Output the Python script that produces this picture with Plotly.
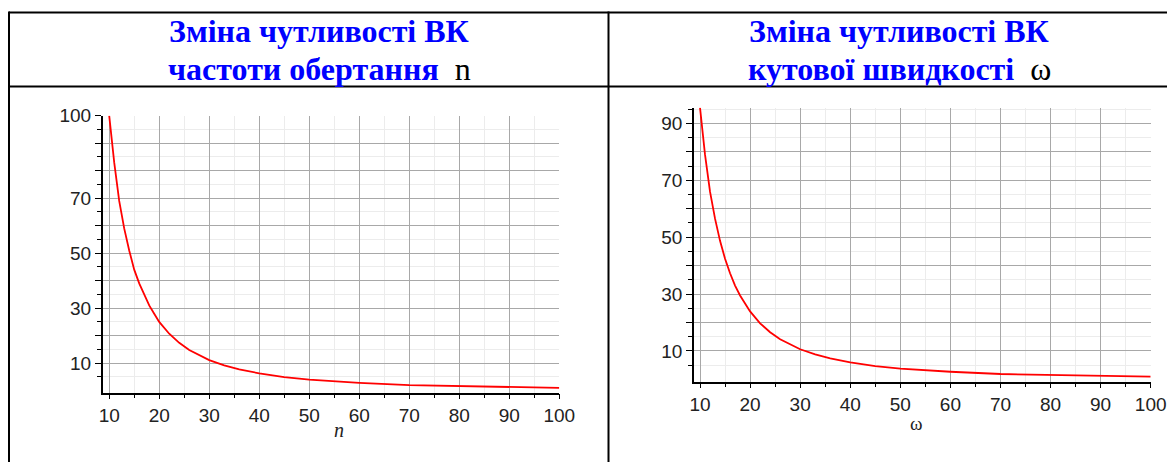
import plotly.graph_objects as go
from plotly.subplots import make_subplots

W, H = 1175, 462
OFF = 8  # the page body margin shifts the figure by 8 px

# values
n_vals = [10, 11, 12, 13, 14, 15, 16, 17, 18, 19, 20, 22, 24, 26, 28, 30, 33, 36, 40, 45, 50, 55, 60, 70, 80, 90, 100]
sens_n = [100, 83, 69, 59, 51, 44, 39, 35, 31, 28, 25, 20.7, 17.4, 14.8, 12.8, 11.1, 9.2, 7.7, 6.3, 4.9, 4.0, 3.3, 2.8, 2.0, 1.6, 1.2, 1.0]

w_vals = [10, 11, 12, 13, 14, 15, 16, 17, 18, 19, 20, 22, 24, 26, 28, 30, 33, 36, 40, 45, 50, 55, 60, 70, 80, 90, 100]
sens_w = [95.5, 79, 66, 56.5, 48.7, 42.4, 37.3, 33, 29.5, 26.5, 23.9, 19.7, 16.6, 14.1, 12.2, 10.6, 8.8, 7.4, 6.0, 4.7, 3.8, 3.2, 2.7, 1.9, 1.5, 1.2, 0.95]

x_ticks = [10, 20, 30, 40, 50, 60, 70, 80, 90, 100]
x_minor = [15, 25, 35, 45, 55, 65, 75, 85, 95]

y_ticks_n = [10, 20, 30, 40, 50, 60, 70, 80, 90, 100]
y_text_n = ["10", "", "30", "", "50", "", "70", "", "", "100"]
y_ticks_w = [10, 20, 30, 40, 50, 60, 70, 80, 90]
y_text_w = ["10", "", "30", "", "50", "", "70", "", "90"]
y_minor = [5, 15, 25, 35, 45, 55, 65, 75, 85, 95]

headers = [
    ("Зміна чутливості ВК", "частоти обертання", "n"),
    ("Зміна чутливості ВК", "кутової швидкості", "ω"),
]


def px(x):
    return (x - OFF) / W


def py(y):
    return 1 - (y - OFF) / H


fig = make_subplots(rows=1, cols=2)

fig.add_trace(go.Scatter(x=n_vals, y=sens_n, mode="lines",
                         line=dict(color="#ff0000", width=1.8), showlegend=False), row=1, col=1)
fig.add_trace(go.Scatter(x=w_vals, y=sens_w, mode="lines",
                         line=dict(color="#ff0000", width=1.8), showlegend=False), row=1, col=2)

tick_font = dict(family="Liberation Sans", size=19, color="#222")
grid_major = "#a8a8a8"
grid_minor = "#ececec"

common_x = dict(
    tickmode="array", tickvals=x_ticks, ticktext=[str(v) for v in x_ticks],
    showgrid=True, gridcolor=grid_major, gridwidth=1,
    showline=True, linecolor="black", linewidth=1.5,
    ticks="outside", ticklen=5, tickwidth=1.2, tickcolor="black",
    tickfont=tick_font, zeroline=False, automargin=False,
    minor=dict(tickmode="array", tickvals=x_minor, showgrid=True, gridcolor=grid_minor,
               ticks="outside", ticklen=4, tickwidth=1.2, tickcolor="black"),
)
common_y = dict(
    showgrid=True, gridcolor=grid_major, gridwidth=1,
    showline=True, linecolor="black", linewidth=1.5,
    ticks="outside", ticklen=6, tickwidth=1.2, tickcolor="black",
    tickfont=tick_font, zeroline=False, automargin=False,
    minor=dict(tickmode="array", tickvals=y_minor, showgrid=True, gridcolor=grid_minor,
               ticks="outside", ticklen=4, tickwidth=1.2, tickcolor="black"),
)

fig.update_xaxes(common_x)
fig.update_yaxes(common_y)

fig.update_layout(
    xaxis=dict(domain=[px(102.7), px(559.3)], range=[8.7, 100]),
    yaxis=dict(domain=[py(392.7), py(115.7)], range=[-0.75, 100],
               tickmode="array", tickvals=y_ticks_n, ticktext=y_text_n),
    xaxis2=dict(domain=[px(694), px(1150.7)], range=[8.8, 100]),
    yaxis2=dict(domain=[py(381.7), py(107.7)], range=[-0.8, 95.5],
                tickmode="array", tickvals=y_ticks_w, ticktext=y_text_w),
)

# table borders
line = dict(color="black", width=2)
left_edge = px(9)
shapes = [
    dict(type="line", xref="paper", yref="paper", x0=left_edge, x1=1, y0=py(12.5), y1=py(12.5), line=line),
    dict(type="line", xref="paper", yref="paper", x0=left_edge, x1=1, y0=py(86.5), y1=py(86.5), line=line),
    dict(type="line", xref="paper", yref="paper", x0=left_edge, x1=left_edge, y0=py(11.5), y1=0, line=line),
    dict(type="line", xref="paper", yref="paper", x0=px(608.5), x1=px(608.5), y0=py(11.5), y1=0, line=line),
]

annotations = []
for cx, (l1, l2, sym) in zip([319, 899], headers):
    annotations.append(dict(
        x=px(cx), y=py(31.5), xref="paper", yref="paper", showarrow=False,
        xanchor="center", yanchor="middle",
        text=f"<b>{l1}</b>",
        font=dict(family="Liberation Serif", size=32, color="#0000ff"),
    ))
    annotations.append(dict(
        x=px(cx), y=py(69.5), xref="paper", yref="paper", showarrow=False,
        xanchor="center", yanchor="middle",
        text=f"<b>{l2}</b>  <span style='color:black'>{sym}</span>",
        font=dict(family="Liberation Serif", size=32, color="#0000ff"),
    ))

annotations.append(dict(x=px(332), y=py(443), xref="paper", yref="paper", showarrow=False,
                        text="<i>n</i>", font=dict(family="Liberation Serif", size=20, color="#222")))
annotations.append(dict(x=px(925), y=py(436), xref="paper", yref="paper", showarrow=False,
                        text="ω", font=dict(family="Liberation Serif", size=19, color="#222")))

fig.update_layout(
    width=W, height=H, autosize=False,
    margin=dict(l=0, r=0, t=0, b=0, autoexpand=False),
    paper_bgcolor="white", plot_bgcolor="white",
    shapes=shapes, annotations=annotations,
    showlegend=False,
)

fig.write_html("out.html")
